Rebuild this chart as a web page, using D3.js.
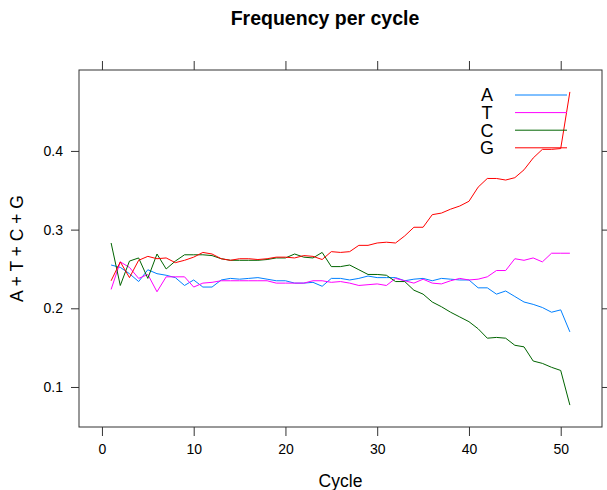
<!DOCTYPE html>
<html>
<head>
<meta charset="utf-8">
<script src="https://cdn.jsdelivr.net/npm/d3@7"></script>
<style>
  body { margin: 0; background: #fff; }
  text { font-family: "Liberation Sans", Arial, sans-serif; }
</style>
</head>
<body>
<script>
var w = 607;
var h = 490;

// cycles 1..51
var cycles = d3.range(1, 52);
var bases = ["A", "T", "C", "G"];
var colors = ["#0080ff", "#ff00ff", "#006400", "#ff0000"];

// frequency per cycle
var freqA = [0.255, 0.252, 0.244, 0.234, 0.249, 0.244, 0.242, 0.239, 0.229, 0.236,
             0.227, 0.227, 0.236, 0.238, 0.237, 0.238, 0.239, 0.237, 0.235, 0.235,
             0.232, 0.232, 0.233, 0.228, 0.238, 0.238, 0.236, 0.238, 0.241, 0.239,
             0.239, 0.239, 0.235, 0.237, 0.238, 0.235, 0.238, 0.237, 0.236, 0.236,
             0.226, 0.226, 0.218, 0.222, 0.215, 0.208, 0.205, 0.201, 0.195, 0.198,
             0.170];
var freqT = [0.224, 0.259, 0.252, 0.238, 0.243, 0.221, 0.240, 0.240, 0.240, 0.227,
             0.232, 0.233, 0.235, 0.235, 0.235, 0.235, 0.235, 0.235, 0.232, 0.232,
             0.232, 0.232, 0.235, 0.235, 0.233, 0.234, 0.232, 0.229, 0.230, 0.231,
             0.229, 0.238, 0.235, 0.232, 0.237, 0.232, 0.231, 0.235, 0.238, 0.236,
             0.237, 0.240, 0.248, 0.248, 0.263, 0.261, 0.264, 0.259, 0.270, 0.270,
             0.270];
var freqC = [0.283, 0.229, 0.260, 0.264, 0.238, 0.269, 0.250, 0.260, 0.268, 0.268,
             0.268, 0.267, 0.263, 0.261, 0.261, 0.261, 0.261, 0.262, 0.264, 0.264,
             0.269, 0.265, 0.264, 0.271, 0.253, 0.253, 0.255, 0.249, 0.243, 0.243,
             0.242, 0.234, 0.234, 0.223, 0.218, 0.208, 0.202, 0.195, 0.189, 0.183,
             0.174, 0.162, 0.163, 0.162, 0.153, 0.151, 0.133, 0.130, 0.125, 0.121,
             0.077];
var freqG = [0.235, 0.259, 0.239, 0.261, 0.266, 0.263, 0.264, 0.258, 0.261, 0.265,
             0.271, 0.269, 0.263, 0.261, 0.263, 0.263, 0.262, 0.263, 0.265, 0.265,
             0.264, 0.267, 0.266, 0.262, 0.272, 0.271, 0.272, 0.280, 0.280, 0.283,
             0.284, 0.283, 0.292, 0.303, 0.303, 0.319, 0.321, 0.326, 0.330, 0.336,
             0.354, 0.365, 0.365, 0.363, 0.366, 0.376, 0.391, 0.402, 0.402, 0.403,
             0.475];

var xTicks = [0, 10, 20, 30, 40, 50];
var yTicks = [0.1, 0.2, 0.3, 0.4];

var series = [freqA, freqT, freqC, freqG];

var svg = d3.select("body").append("svg")
    .attr("width", w)
    .attr("height", h);

// panel box
var panelLeft = 79, panelRight = 602, panelTop = 70, panelBottom = 427;

// lattice-like padding of 7% on each side
var yAll = d3.merge(series);
var yMin = d3.min(yAll), yMax = d3.max(yAll);
var yPad = (yMax - yMin) * 0.07;
var xPad = (d3.max(cycles) - d3.min(cycles)) * 0.07;

var x = d3.scaleLinear()
    .domain([d3.min(cycles) - xPad, d3.max(cycles) + xPad])
    .range([panelLeft, panelRight]);

var y = d3.scaleLinear()
    .domain([yMin - yPad, yMax + yPad])
    .range([panelBottom, panelTop]);

// axes on all four sides, labels only bottom and left
svg.append("g")
    .attr("class", "axis")
    .attr("transform", "translate(0," + panelBottom + ")")
    .call(d3.axisBottom(x).tickValues(xTicks).tickSize(9).tickPadding(8).tickFormat(d3.format("d")));

svg.append("g")
    .attr("class", "axis")
    .attr("transform", "translate(0," + panelTop + ")")
    .call(d3.axisTop(x).tickValues(xTicks).tickSize(9).tickFormat(""));

svg.append("g")
    .attr("class", "axis")
    .attr("transform", "translate(" + panelLeft + ",0)")
    .call(d3.axisLeft(y).tickValues(yTicks).tickSize(8).tickPadding(8).tickFormat(d3.format(".1f")));

svg.append("g")
    .attr("class", "axis")
    .attr("transform", "translate(" + panelRight + ",0)")
    .call(d3.axisRight(y).tickValues(yTicks).tickSize(8).tickFormat(""));

svg.selectAll(".axis .domain").remove();
svg.selectAll(".axis line").attr("stroke", "#333");
svg.selectAll(".axis").attr("font-size", 14).attr("font-family", "'Liberation Sans', Arial, sans-serif");
svg.selectAll(".axis text").attr("fill", "#000");

// panel border
svg.append("rect")
    .attr("x", panelLeft)
    .attr("y", panelTop)
    .attr("width", panelRight - panelLeft)
    .attr("height", panelBottom - panelTop)
    .attr("fill", "none")
    .attr("stroke", "#333")
    .attr("stroke-width", 1);

// lines
var line = d3.line()
    .x(function(d, i) { return x(cycles[i]); })
    .y(function(d) { return y(d); });

svg.selectAll(".series")
    .data(series)
    .enter().append("path")
    .attr("class", "series")
    .attr("d", line)
    .attr("fill", "none")
    .attr("stroke", function(d, i) { return colors[i]; })
    .attr("stroke-width", 1);

// key
var key = svg.append("g").attr("transform", "translate(487,95)");
bases.forEach(function(b, i) {
    key.append("text")
        .attr("x", 0)
        .attr("y", i * 17.6)
        .attr("dy", "0.36em")
        .attr("text-anchor", "middle")
        .style("font-size", "18px")
        .text(b);
    key.append("line")
        .attr("x1", 28)
        .attr("x2", 80)
        .attr("y1", i * 17.6)
        .attr("y2", i * 17.6)
        .attr("stroke", colors[i])
        .attr("stroke-width", 1);
});

// title and axis labels
svg.append("text")
    .attr("x", 325)
    .attr("y", 25)
    .attr("text-anchor", "middle")
    .style("font-size", "19.5px")
    .style("font-weight", "bold")
    .text("Frequency per cycle");

svg.append("text")
    .attr("x", (panelLeft + panelRight) / 2)
    .attr("y", 487)
    .attr("text-anchor", "middle")
    .style("font-size", "17.5px")
    .text("Cycle");

svg.append("text")
    .attr("transform", "translate(23," + (panelTop + panelBottom) / 2 + ") rotate(-90)")
    .attr("text-anchor", "middle")
    .style("font-size", "17.5px")
    .text("A + T + C + G");
</script>
</body>
</html>
